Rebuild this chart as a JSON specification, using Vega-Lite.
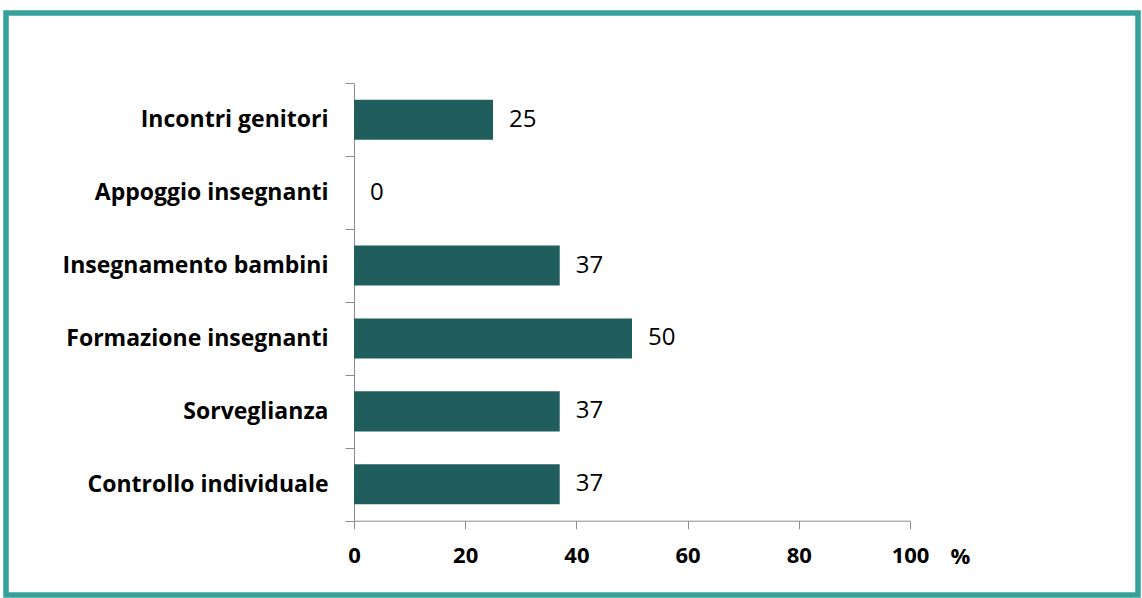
{
  "$schema": "https://vega.github.io/schema/vega-lite/v6.json",
  "autosize": {"type": "none"},
  "padding": {"left": 6, "top": 13, "right": 4, "bottom": 3},
  "width": 1132,
  "height": 582,
  "background": "white",
  "config": {
    "view": {"stroke": "#36a09a", "strokeWidth": 5.5},
    "font": "Open Sans"
  },
  "data": {
    "values": [
      {"categoria": "Incontri genitori", "valore": 25},
      {"categoria": "Appoggio insegnanti", "valore": 0},
      {"categoria": "Insegnamento bambini", "valore": 37},
      {"categoria": "Formazione insegnanti", "valore": 50},
      {"categoria": "Sorveglianza", "valore": 37},
      {"categoria": "Controllo individuale", "valore": 37}
    ]
  },
  "encoding": {
    "y": {
      "field": "categoria",
      "type": "nominal",
      "sort": null,
      "scale": {"range": [70.3, 507.7], "paddingInner": 0, "paddingOuter": 0},
      "axis": {
        "title": null,
        "offset": -348,
        "domainColor": "#8c8c8c",
        "tickColor": "#8c8c8c",
        "tickSize": 9,
        "tickBand": "extent",
        "labelPadding": 17,
        "labelFont": "Open Sans",
        "labelFontWeight": "bold",
        "labelFontSize": 23,
        "labelColor": "#000000",
        "labelLimit": 400
      }
    },
    "x": {
      "field": "valore",
      "type": "quantitative",
      "scale": {"domain": [0, 100], "range": [348, 904], "nice": false},
      "axis": {
        "values": [0, 20, 40, 60, 80, 100],
        "grid": false,
        "offset": -74.3,
        "domainColor": "#8c8c8c",
        "tickColor": "#8c8c8c",
        "tickSize": 8,
        "labelPadding": 17,
        "labelFlush": false,
        "labelFont": "Open Sans",
        "labelFontWeight": "bold",
        "labelFontSize": 22,
        "labelColor": "#000000",
        "title": "%",
        "titleX": 954,
        "titleY": 36,
        "titleAlign": "center",
        "titleBaseline": "middle",
        "titleFont": "Open Sans",
        "titleFontWeight": "bold",
        "titleFontSize": 22,
        "titleColor": "#000000"
      }
    }
  },
  "layer": [
    {
      "mark": {"type": "bar", "color": "#1f5e5c", "height": {"band": 0.55}}
    },
    {
      "mark": {"type": "text", "align": "left", "baseline": "middle", "dx": 16, "fontSize": 24, "font": "Open Sans", "color": "#000000"},
      "encoding": {"text": {"field": "valore", "type": "quantitative"}}
    }
  ]
}
